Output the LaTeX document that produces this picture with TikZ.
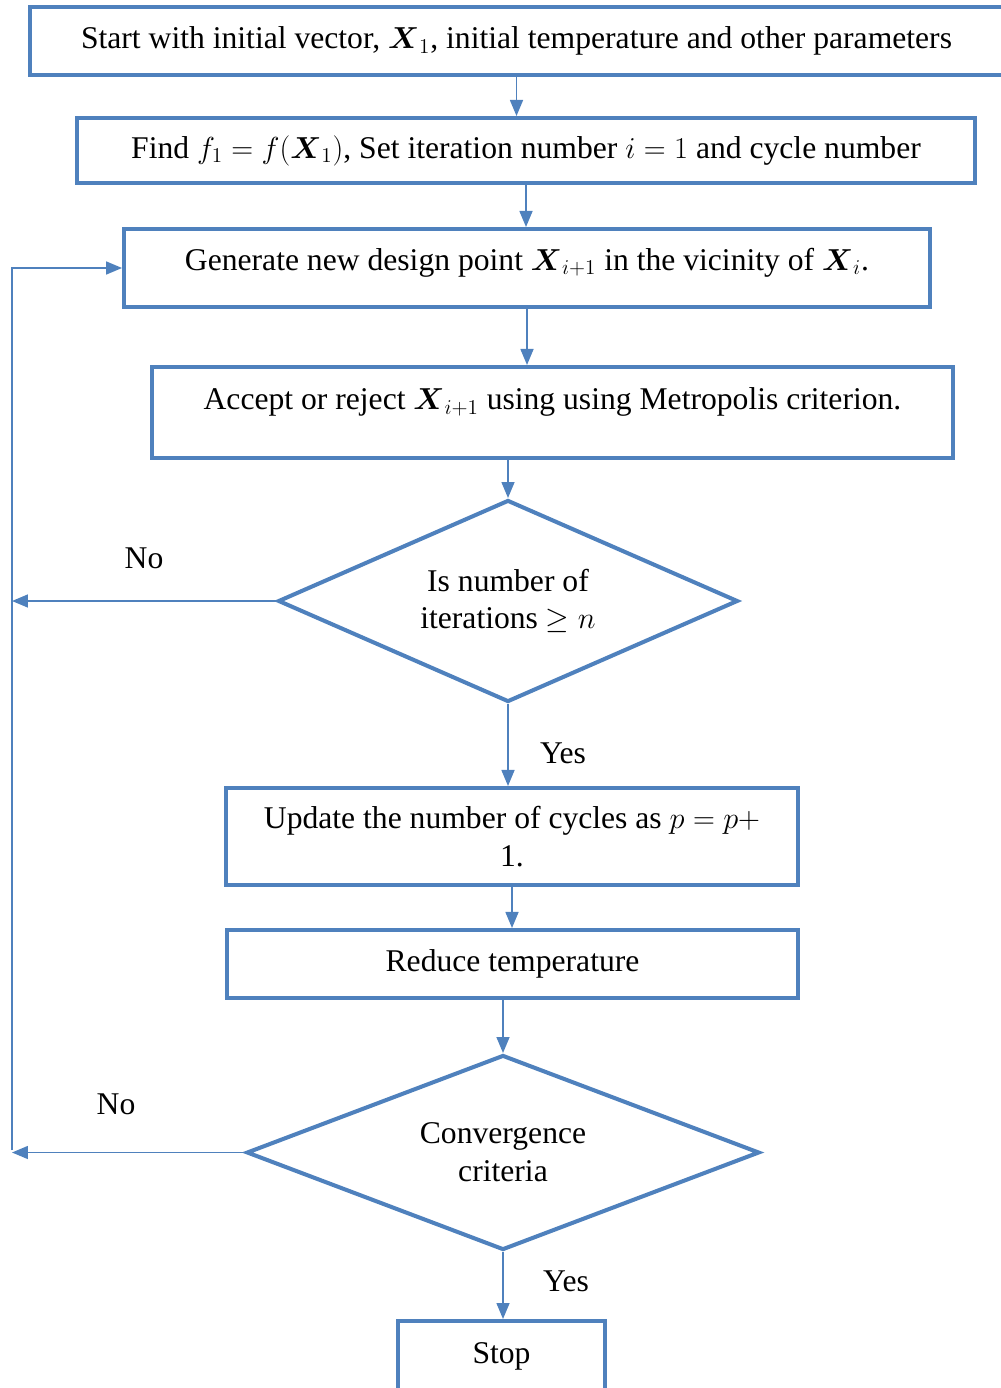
\documentclass[tikz,border=0pt]{standalone}
\usepackage{amsmath,amssymb}
\usepackage{fontspec}
\setmainfont{Liberation Serif}
\usetikzlibrary{shapes.geometric}
\usetikzlibrary{arrows.meta}
\definecolor{cblue}{HTML}{4F81BD}

\begin{document}
\begin{tikzpicture}[x=0.02cm, y=-0.02cm]
    \tikzset{
        box/.style={rectangle, draw=cblue, line width=2.3pt, align=center, font=\fontsize{18pt}{21.5pt}\selectfont, inner sep=0pt},
        decision/.style={diamond, draw=cblue, line width=2.3pt, align=center, font=\fontsize{18pt}{21.5pt}\selectfont, inner sep=0pt},
        lbl/.style={font=\fontsize{18pt}{21.5pt}\selectfont},
        flow/.style={draw=cblue, line width=0.9pt, -{Triangle[length=3.2mm, width=2.6mm]}}
    }
    \useasboundingbox (0,0) rectangle (1000,1388);

    \node[box, minimum width=19.46cm, minimum height=1.36cm] (start) at (516.5,41) {Start with initial vector, $\boldsymbol{X}_1$, initial temperature and other parameters};
    \node[box, minimum width=17.96cm, minimum height=1.3cm] (find) at (526,150.5) {Find $f_1 = f(\boldsymbol{X}_1)$,\ Set iteration number $i = 1$ and cycle number};
    \node[box, minimum width=16.12cm, minimum height=1.56cm, text depth=0.35cm] (gen) at (527,268) {Generate new design point $\boldsymbol{X}_{i+1}$ in the vicinity of $\boldsymbol{X}_i$.};
    \node[box, minimum width=16.02cm, minimum height=1.82cm, text depth=0.55cm] (accept) at (552.5,412.5) {Accept or reject $\boldsymbol{X}_{i+1}$ using using Metropolis criterion.};
    \node[decision, aspect=2.3, minimum width=9.2cm, minimum height=4.04cm] (iter) at (508,601) {Is number of\\iterations $\geq n$};
    \node[box, minimum width=11.44cm, minimum height=1.94cm] (update) at (512,836.5) {Update the number of cycles as $p = p +$\\1.};
    \node[box, minimum width=11.42cm, minimum height=1.36cm] (reduce) at (512.5,964) {Reduce temperature};
    \node[decision, aspect=2.6, minimum width=10.26cm, minimum height=3.9cm] (conv) at (503,1152.5) {Convergence\\criteria};
    \node[box, minimum width=4.14cm, minimum height=1.42cm] (stop) at (501.5,1356.5) {Stop};

    \node[lbl] (no_iter) at (144,558) {No};
    \node[lbl] (yes_iter) at (563,753) {Yes};
    \node[lbl] (no_conv) at (116,1104) {No};
    \node[lbl] (yes_conv) at (566,1281) {Yes};

    \coordinate (back) at (12,1150);

    \path[flow] (start) -- (start |- find.north);
    \path[flow] (find) -- (find |- gen.north);
    \path[flow] (gen) -- (gen |- accept.north);
    \path[flow] (accept.south -| iter.north) -- (iter.north);
    \path[flow] (iter.south) -- (iter.south |- update.north);
    \path[flow] (update) -- (update |- reduce.north);
    \path[flow] (reduce.south -| conv.north) -- (conv.north);
    \path[flow] (conv.south) -- (conv.south |- stop.north);
    \path[flow] (iter.west) -- (iter.west -| back);
    \path[flow] (conv.west) -- (conv.west -| back);
    \path[flow] (back) |- (gen.west);
\end{tikzpicture}
\end{document}
